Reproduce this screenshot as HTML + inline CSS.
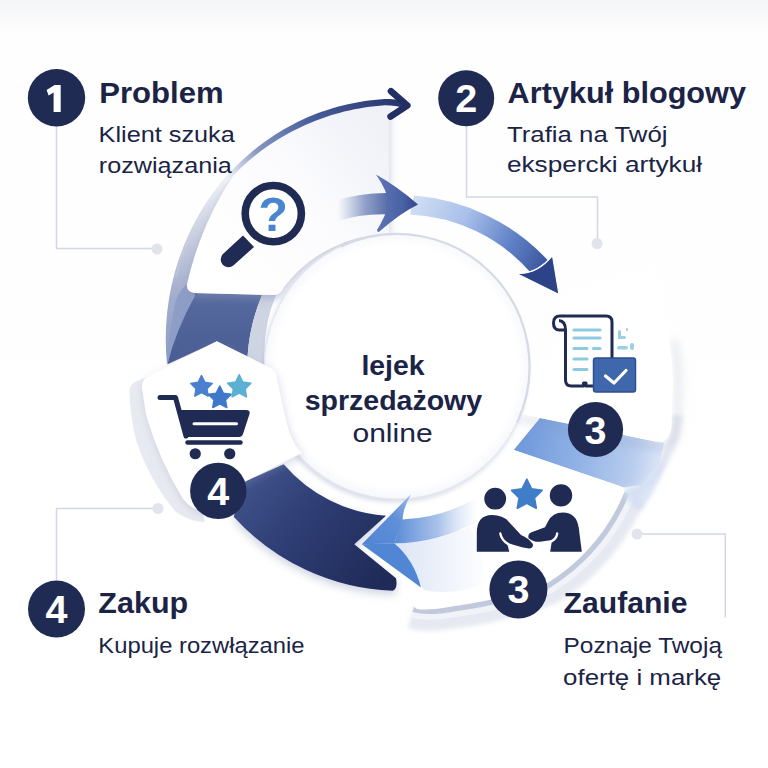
<!DOCTYPE html><html><head><meta charset="utf-8"><title>Lejek sprzedażowy online</title><style>html,body{margin:0;padding:0;background:#fff}body{width:768px;height:768px;overflow:hidden;font-family:"Liberation Sans",sans-serif}svg{display:block}</style></head><body><svg width="768" height="768" viewBox="0 0 768 768"><defs>
<linearGradient id="bg" x1="0" y1="0" x2="0" y2="1"><stop offset="0" stop-color="#f4f5f7"/><stop offset="0.045" stop-color="#fefefe"/><stop offset="1" stop-color="#ffffff"/></linearGradient>
<filter id="blur2" x="-30%" y="-30%" width="160%" height="160%"><feGaussianBlur stdDeviation="2"/></filter>
<filter id="blur4" x="-30%" y="-30%" width="160%" height="160%"><feGaussianBlur stdDeviation="4"/></filter>
<filter id="blur8" x="-30%" y="-30%" width="160%" height="160%"><feGaussianBlur stdDeviation="8"/></filter>
<linearGradient id="gRim" gradientUnits="userSpaceOnUse" x1="180" y1="285" x2="405" y2="100"><stop offset="0" stop-color="#b7bed4"/><stop offset="0.36" stop-color="#f0f1f7"/><stop offset="0.5" stop-color="#8796c2"/><stop offset="0.7" stop-color="#4a5f9e"/><stop offset="1" stop-color="#27346a"/></linearGradient>
<linearGradient id="gArr1" gradientUnits="userSpaceOnUse" x1="338" y1="0" x2="392" y2="0"><stop offset="0" stop-color="#7f90c0" stop-opacity="0"/><stop offset="0.5" stop-color="#6f83b8" stop-opacity="0.75"/><stop offset="1" stop-color="#4b62a2"/></linearGradient>
<linearGradient id="gHead1" gradientUnits="userSpaceOnUse" x1="378" y1="0" x2="418" y2="0"><stop offset="0" stop-color="#5d75b5"/><stop offset="0.6" stop-color="#4a62a6"/><stop offset="1" stop-color="#34478a"/></linearGradient>
<linearGradient id="gBand1" gradientUnits="userSpaceOnUse" x1="415" y1="205" x2="545" y2="268"><stop offset="0" stop-color="#cfdcf3"/><stop offset="0.35" stop-color="#a9c0ea"/><stop offset="0.7" stop-color="#6283c8"/><stop offset="1" stop-color="#3a559d"/></linearGradient>
<linearGradient id="gBand2" gradientUnits="userSpaceOnUse" x1="520" y1="440" x2="662" y2="468"><stop offset="0" stop-color="#7099db"/><stop offset="0.45" stop-color="#93b4e6"/><stop offset="0.8" stop-color="#b9cdee"/><stop offset="1" stop-color="#dfe8f8"/></linearGradient>
<linearGradient id="gArr3" gradientUnits="userSpaceOnUse" x1="396" y1="0" x2="478" y2="0"><stop offset="0" stop-color="#5c8cd7"/><stop offset="0.5" stop-color="#8fb0e4" stop-opacity="0.8"/><stop offset="1" stop-color="#c5d6f2" stop-opacity="0"/></linearGradient>
<linearGradient id="gHead3" gradientUnits="userSpaceOnUse" x1="360" y1="545" x2="412" y2="495"><stop offset="0" stop-color="#4f83d3"/><stop offset="0.6" stop-color="#5f8fd8"/><stop offset="1" stop-color="#9ab8e8"/></linearGradient>
<linearGradient id="gPale3" gradientUnits="userSpaceOnUse" x1="398" y1="560" x2="490" y2="560"><stop offset="0" stop-color="#d9e3f5"/><stop offset="1" stop-color="#ffffff"/></linearGradient>
<linearGradient id="gDark" gradientUnits="userSpaceOnUse" x1="250" y1="475" x2="380" y2="585"><stop offset="0" stop-color="#40528b"/><stop offset="0.45" stop-color="#2d3c72"/><stop offset="1" stop-color="#1f2a57"/></linearGradient>
<linearGradient id="gRib" gradientUnits="userSpaceOnUse" x1="0" y1="293" x2="0" y2="362"><stop offset="0" stop-color="#566a9e"/><stop offset="1" stop-color="#4a5d94"/></linearGradient>
<linearGradient id="gLeft" gradientUnits="userSpaceOnUse" x1="0" y1="180" x2="0" y2="365"><stop offset="0" stop-color="#eef0f6"/><stop offset="0.3" stop-color="#c9cfe0"/><stop offset="0.62" stop-color="#a3aecd"/><stop offset="1" stop-color="#8c9cc5"/></linearGradient>
<linearGradient id="gSeg1" gradientUnits="userSpaceOnUse" x1="215" y1="290" x2="389" y2="150"><stop offset="0" stop-color="#ffffff"/><stop offset="0.55" stop-color="#fcfcfe"/><stop offset="1" stop-color="#f0f2f8"/></linearGradient>
<radialGradient id="gDisk" gradientUnits="userSpaceOnUse" cx="397" cy="366" r="134"><stop offset="0.9" stop-color="#ffffff"/><stop offset="1" stop-color="#f6f7fb"/></radialGradient>
</defs>
<rect width="768" height="768" fill="url(#bg)"/>
<path d="M167 364 A248.4 248.4 0 0 1 233 169 L250 200 L196 294 Z" fill="url(#gLeft)"/>
<path d="M195 295 Q178 326 167.5 364 Q168 335 176 300 Q180 290 187 284 Z" fill="#8d9dc6"/>
<path d="M194 293 L262 295 A190 190 0 0 0 247.5 357 L216.7 341.3 L167.5 364 Q176 330 195 295.5 Z" fill="url(#gRib)"/>
<path d="M167.5 364 L216.7 341.3" stroke="#35467d" stroke-width="1" opacity="0.5"/>
<path d="M262 295 L276 295 A150 150 0 0 0 265 366 L247.5 357 A190 190 0 0 1 262 295Z" fill="#cfd4e3"/>
<path d="M129.5 391 Q130 384 137 381 L150 376 L160 400 L200 505 L205 522 Q190 522 176 512 Q150 482 136 440 Q130 415 129.5 391Z" fill="#e8eaf1"/>
<path d="M397 372 m-160 100 l160 60z" fill="none"/>
<path d="M244.0 482.0L283.7 464.2A149.0 149.0 0 0 0 386.0 515.8L354.3 544.2L396.0 578.3 Q398 589 392.7 590.8A226.5 226.5 0 0 1 233.7 516.7Z" fill="#aab2cc" opacity="0.55" transform="translate(0,4)" filter="url(#blur4)"/>
<path d="M244.0 482.0L283.7 464.2A149.0 149.0 0 0 0 386.0 515.8L354.3 544.2L396.0 578.3 Q398 589 392.7 590.8A226.5 226.5 0 0 1 233.7 516.7Z" fill="url(#gDark)"/>
<path d="M414.0 195.5A205.0 205.0 0 0 1 548.0 260.5L531.0 273.0A171.0 171.0 0 0 0 410.0 214.5Z" fill="url(#gBand1)"/>
<path d="M552.5 255.5 L559 294.5 L515.5 273 Q536 275.5 552.5 255.5Z" fill="#2c4387" stroke="#ffffff" stroke-width="1.2" stroke-linejoin="round"/>
<path d="M678.0 415.0 Q672 468 630.0 497.0" fill="none" stroke="#e9ecf3" stroke-width="10" filter="url(#blur2)"/>
<path d="M624.5 492.0A196.0 196.0 0 0 1 547.5 583.0A420.0 420.0 0 0 1 455.0 606.0 Q428 611 414 607" fill="none" stroke="#e6e9f1" stroke-width="44" filter="url(#blur2)"/>
<path d="M624.5 492.0A196.0 196.0 0 0 1 547.5 583.0A420.0 420.0 0 0 1 455.0 606.0 Q428 611 414 607" fill="none" stroke="#f1f3f8" stroke-width="22"/>
<path d="M624.5 492.0A196.0 196.0 0 0 1 547.5 583.0A420.0 420.0 0 0 1 455.0 606.0 Q428 611 414 607" fill="none" stroke="#c1c9dd" stroke-width="10.5"/>
<g fill="none" stroke="#d4d8e4" stroke-width="1.5"><path d="M56.5 126V248.5H157"/><path d="M466.5 126V197H597.5V243"/><path d="M157 508.5H56.5V580"/><path d="M637 534H725.3V617.5"/></g>
<g fill="#e1e4ed"><circle cx="157" cy="249" r="5.5"/><circle cx="597" cy="243.5" r="5.5"/><circle cx="158" cy="508.5" r="5.5"/><circle cx="637" cy="534" r="5.5"/></g>
<path d="M540 418 L664 443 L660 462 L642 485 L623.75 487.5 L513.75 450 Z" fill="url(#gBand2)"/>
<path d="M640 484 L660 462 L668 450 Q664 480 640 512 L626 500 L624 488Z" fill="#d3dff4" opacity="0.8" filter="url(#blur2)"/>
<path d="M513.8 450.0L619.0 485.8 Q624.5 488 624.5 492 A196.0 196.0 0 0 1 547.5 583.0A420.0 420.0 0 0 1 455.0 606.0 Q428 611 417 609 L404 600 L398 548 L412 500 A150.0 150.0 0 0 0 513.8 450.0Z" fill="#ffffff"/>
<path d="M396 544 Q430 540 470 527 Q486 560 486 584 Q450 596 424 590 Z" fill="url(#gPale3)" opacity="0.9"/>
<path d="M517 418 L655 446.5 Q675 450 677 428 L678.5 381 Q678 360 674 340" fill="none" stroke="#8a93b3" stroke-width="6" opacity="0.24" filter="url(#blur4)"/>
<path d="M521.0 414.0L655.0 441.5 Q669 444 671.4 428 L673 381 Q672 355 668.5 337 L655 268 L560 296 A134.0 134.0 0 0 1 521.0 414.0Z" fill="#ffffff"/>
<path d="M195 293 Q186 292.5 187 284 A330.0 330.0 0 0 1 238.0 168.5A230.3 230.3 0 0 1 389.0 103.5L389.0 234.0A134.5 134.5 0 0 0 284.0 287.0 Q281 295 274 295 Z" fill="#8c97ba" opacity="0.5" transform="translate(0,4)" filter="url(#blur4)"/>
<path d="M195 293 Q186 292.5 187 284 A330.0 330.0 0 0 1 238.0 168.5A230.3 230.3 0 0 1 389.0 103.5L389.0 234.0A134.5 134.5 0 0 0 284.0 287.0 Q281 295 274 295 Z" fill="url(#gSeg1)"/>
<path d="M173.9 277.5 L175.2 272.4 L176.6 267.3 L178.1 262.3 L179.8 257.3 L181.5 252.3 L183.4 247.4 L185.4 242.5 L187.4 237.7 L189.6 232.9 L191.9 228.2 L194.3 223.5 L196.7 218.8 L199.3 214.3 L202.0 209.7 L204.8 205.2 L207.6 200.8 L210.6 196.5 L213.7 192.2 L216.9 188.0 L220.2 183.9 L223.5 179.8 L227.0 175.9 L230.6 172.0 L234.2 168.1 L237.9 164.4 L241.7 160.7 L245.6 157.2 L249.6 153.7 L253.6 150.3 L257.8 147.0 L262.0 143.8 L266.3 140.7 L270.6 137.7 L275.0 134.8 L279.5 132.0 L284.0 129.3 L288.6 126.7 L293.3 124.2 L298.0 121.8 L302.8 119.5 L307.6 117.3 L312.5 115.2 L317.4 113.3 L322.4 111.5 L327.4 109.9 L332.5 108.3 L337.6 106.8 L342.7 105.5 L347.9 104.3 L353.1 103.2 L358.3 102.2 L363.5 101.3 L368.7 100.5 L374.0 99.9 L379.3 99.4 L384.5 99.0 L389.8 99.1 L395.1 99.6 L400.4 100.7 L405.6 102.2 L405.4 108.5 L400.4 107.0 L395.3 105.9 L390.1 105.4 L384.9 105.3 L379.8 105.7 L374.7 106.2 L369.6 106.8 L364.4 107.5 L359.4 108.4 L354.3 109.3 L349.3 110.4 L344.2 111.6 L339.3 112.9 L334.3 114.3 L329.4 115.8 L324.5 117.5 L319.7 119.2 L314.8 121.1 L310.1 123.0 L305.3 125.0 L300.6 127.2 L296.0 129.4 L291.4 131.8 L286.9 134.2 L282.4 136.8 L277.9 139.4 L273.6 142.2 L269.3 145.1 L265.0 148.0 L260.9 151.1 L256.8 154.2 L252.7 157.5 L248.8 160.8 L244.9 164.2 L241.1 167.7 L237.4 171.3 L233.7 175.0 L230.2 178.7 L226.7 182.6 L223.3 186.5 L220.0 190.5 L216.8 194.6 L213.7 198.7 L210.7 202.9 L207.8 207.2 L205.0 211.6 L202.2 216.0 L199.6 220.5 L197.1 225.0 L194.7 229.6 L192.3 234.2 L190.2 238.9 L188.1 243.7 L186.2 248.5 L184.3 253.4 L182.6 258.3 L181.0 263.2 L179.5 268.2 L178.1 273.2 L176.8 278.2Z" fill="url(#gRim)"/>
<path d="M391 91.3 L407.3 105.6 L390.6 116.6" fill="none" stroke="#222f63" stroke-width="6.6" stroke-linecap="round" stroke-linejoin="round"/>
<circle cx="395.5" cy="369.5" r="133" fill="#aab3cf" opacity="0.42" filter="url(#blur2)"/>
<circle cx="397" cy="366.5" r="132.5" fill="url(#gDisk)" stroke="#e6e8f0" stroke-width="1.2"/>
<path d="M341.0 246.4A132.5 132.5 0 0 1 517.1 422.5" fill="none" stroke="#d6dae6" stroke-width="2.2"/>
<path d="M216.7 341.3 L270 367.5 Q276 371 277 378 L281 398 L287 424 Q292 444 302 453 L246 481 L205 512 Q192 510 183 499 Q160 462 146 415 L142 388 Q141 381 147 377 Z" fill="#8c97ba" opacity="0.32" transform="translate(1,3)" filter="url(#blur4)"/>
<path d="M216.7 341.3 L270 367.5 Q276 371 277 378 L281 398 L287 424 Q292 444 302 453 L246 481 L205 512 Q192 510 183 499 Q160 462 146 415 L142 388 Q141 381 147 377 Z" fill="#ffffff"/>
<path d="M334 201 A176 176 0 0 1 390 193 L390 214.5 A156 156 0 0 0 336 221.5Z" fill="url(#gArr1)"/>
<path d="M376 174.5 Q398 187 418 204.4 Q399 214 380 231 Q377.5 233.5 377 230 Q385 217 389 204 Q387 190 376 174.5Z" fill="url(#gHead1)"/>
<path d="M394.3 543.3 Q414 560 421 587.5 L361.8 544.2Z" fill="#5186d4"/>
<path d="M402 519.5 A160 160 0 0 0 478 497 L478 521 A180 180 0 0 1 394.3 543.5Z" fill="url(#gArr3)"/>
<path d="M361.8 544.2 L411 494.2 Q403 508 402.5 520 L394.3 543.5 Z" fill="url(#gHead3)" stroke="#fff" stroke-width="0"/>
<path d="M243 235.5 L254 247 L233.6 265.2 A7.7 7.7 0 0 1 223.2 253.8 Z" fill="#1f2b53"/>
<circle cx="273.3" cy="213.6" r="28.1" fill="#fff" stroke="#1f2b53" stroke-width="7.6"/>
<text x="273" y="231.3" font-family="Liberation Sans, sans-serif" font-weight="bold" font-size="48.5" text-anchor="middle" fill="#4a86cf">?</text>
<path d="M201.5 375.7 L204.8 382.4 L212.2 383.5 L206.9 388.7 L208.1 396.1 L201.5 392.6 L194.9 396.1 L196.1 388.7 L190.8 383.5 L198.2 382.4Z" fill="#4a80cf" stroke="#4a80cf" stroke-width="1.6" stroke-linejoin="round"/>
<path d="M239.2 374.8 L242.8 382.1 L250.9 383.2 L245.1 388.9 L246.4 396.9 L239.2 393.1 L232.1 396.9 L233.4 388.9 L227.6 383.2 L235.7 382.1Z" fill="#5bb0d3" stroke="#5bb0d3" stroke-width="1.6" stroke-linejoin="round"/>
<path d="M219.8 386.2 L223.2 393.2 L231.0 394.4 L225.4 399.8 L226.7 407.5 L219.8 403.9 L212.8 407.5 L214.1 399.8 L208.5 394.4 L216.3 393.2Z" fill="#3f78cb" stroke="#3f78cb" stroke-width="1.6" stroke-linejoin="round"/>
<path d="M160 397.5 H175.5 L186 436" fill="none" stroke="#1f2b53" stroke-width="5" stroke-linecap="round" stroke-linejoin="round"/>
<path d="M179 410 H246 Q250.5 410 249.5 414 L243 434 Q242 437 239 437 H188 Z" fill="#1f2b53"/>
<path d="M187.5 442.5 H240.5" stroke="#1f2b53" stroke-width="4.5" stroke-linecap="round"/>
<path d="M194 423.75 H236.5" stroke="#fff" stroke-width="3" stroke-linecap="round"/>
<circle cx="195.25" cy="453.75" r="5.6" fill="#1f2b53"/><circle cx="229.75" cy="453.75" r="5.6" fill="#1f2b53"/>
<path d="M565.5 330 V380 Q565.5 386 571.5 386 H583.5 V383 H586 V386 H606 Q612 386 612 380 V322 Q612 316 606 316 H560 Q553.5 316 553.5 323 Q553.5 330 559.5 330 H565.5 Q565.5 321 559 320.5" fill="#fff" stroke="#1f2b53" stroke-width="3" stroke-linejoin="round"/>
<g stroke="#8ecbe2" stroke-width="3.2" stroke-linecap="round"><path d="M574 330H600M574 338H600M574 348.5H587M593.5 348.5H600M574 359H587M574 369.5H587"/></g>
<g fill="#9bd0e4"><rect x="618" y="330" width="3" height="9" rx="1.5"/><rect x="618" y="336" width="8" height="3" rx="1.5"/><rect x="617" y="346" width="11" height="3.4" rx="1.7"/><rect x="630" y="343" width="4" height="7" rx="2"/><rect x="626" y="328" width="2" height="3" rx="1"/></g>
<rect x="593.5" y="358" width="42" height="34" rx="2.5" fill="#3e67ac" stroke="#2e4f90" stroke-width="1.5"/>
<path d="M605.5 376 L614 383 L626 370.5" fill="none" stroke="#fff" stroke-width="3.2" stroke-linecap="round" stroke-linejoin="round"/>
<path d="M526.8 479.3 L531.5 488.8 L542.0 490.4 L534.4 497.8 L536.2 508.2 L526.8 503.3 L517.4 508.2 L519.2 497.8 L511.6 490.4 L522.1 488.8Z" fill="#3f7dc8" stroke="#3f7dc8" stroke-width="1.8" stroke-linejoin="round"/>
<circle cx="495.2" cy="498.7" r="10.9" fill="#1f2b53"/><circle cx="561" cy="495.4" r="11.2" fill="#1f2b53"/>
<path d="M476.8 551.7 V533 Q476.8 515 492 515 Q503 515 508.5 521.5 L521 535 Q528.5 538 532.8 544 Q533.8 548.3 529 548.6 Q516 546 507 542.5 L509.3 551.7 Z" fill="#1f2b53"/>
<path d="M500.3 533.5 Q501.5 540 508 544" fill="none" stroke="#fff" stroke-width="2.3" stroke-linecap="round"/>
<path d="M581.8 551.7 L578.8 528 Q576.5 512.5 563 512.5 Q552.5 512.5 548 521.5 L545 527.3 L531.5 532.3 Q527.3 534.3 528.6 538.2 Q533 542 540 541.8 L552 540 L550.2 551.7 Z" fill="#1f2b53"/>
<path d="M557.2 533.5 Q556.5 539 550.5 542" fill="none" stroke="#fff" stroke-width="2.3" stroke-linecap="round"/>
<circle cx="56.5" cy="97.7" r="28.7" fill="#1f2b53"/>
<path d="M46.6 90 L54.6 85.1 H60.7 V112 H53.6 V92.6 L48.6 95.5 Z" fill="#fff"/>
<circle cx="466.2" cy="98.3" r="28" fill="#1f2b53"/>
<text x="466.2" y="112.3" font-family="Liberation Sans, sans-serif" font-weight="bold" font-size="39.5" text-anchor="middle" fill="#fff">2</text>
<circle cx="56.5" cy="609" r="28.5" fill="#1f2b53"/>
<text x="56.5" y="623.0" font-family="Liberation Sans, sans-serif" font-weight="bold" font-size="39.5" text-anchor="middle" fill="#fff">4</text>
<circle cx="595.5" cy="429.5" r="27.6" fill="#1f2b53"/>
<text x="595.5" y="443.5" font-family="Liberation Sans, sans-serif" font-weight="bold" font-size="39.5" text-anchor="middle" fill="#fff">3</text>
<circle cx="518.4" cy="589.4" r="29" fill="#1f2b53"/>
<text x="518.4" y="603.4" font-family="Liberation Sans, sans-serif" font-weight="bold" font-size="39.5" text-anchor="middle" fill="#fff">3</text>
<circle cx="218.3" cy="490.9" r="28.2" fill="#1f2b53"/>
<text x="218.3" y="504.9" font-family="Liberation Sans, sans-serif" font-weight="bold" font-size="39.5" text-anchor="middle" fill="#fff">4</text>
<text x="99.32" y="102.7" font-family="Liberation Sans, sans-serif" font-weight="bold" font-size="28.7" textLength="124.26" lengthAdjust="spacingAndGlyphs" fill="#1b2446">Problem</text>
<text x="98.62" y="141.9" font-family="Liberation Sans, sans-serif" font-size="22" textLength="136.20" lengthAdjust="spacingAndGlyphs" fill="#1b2446">Klient szuka</text>
<text x="98.77" y="173.4" font-family="Liberation Sans, sans-serif" font-size="22" textLength="133.11" lengthAdjust="spacingAndGlyphs" fill="#1b2446">rozwiązania</text>
<text x="507.64" y="103.3" font-family="Liberation Sans, sans-serif" font-weight="bold" font-size="28.7" textLength="238.33" lengthAdjust="spacingAndGlyphs" fill="#1b2446">Artykuł blogowy</text>
<text x="506.98" y="141.8" font-family="Liberation Sans, sans-serif" font-size="22" textLength="160.50" lengthAdjust="spacingAndGlyphs" fill="#1b2446">Trafia na Twój</text>
<text x="506.95" y="172.3" font-family="Liberation Sans, sans-serif" font-size="22" textLength="195.13" lengthAdjust="spacingAndGlyphs" fill="#1b2446">ekspercki artykuł</text>
<text x="98.36" y="612.7" font-family="Liberation Sans, sans-serif" font-weight="bold" font-size="28.7" textLength="89.79" lengthAdjust="spacingAndGlyphs" fill="#1b2446">Zakup</text>
<text x="98.34" y="652.7" font-family="Liberation Sans, sans-serif" font-size="22" textLength="206.21" lengthAdjust="spacingAndGlyphs" fill="#1b2446">Kupuje rozwłązanie</text>
<text x="563.61" y="612.5" font-family="Liberation Sans, sans-serif" font-weight="bold" font-size="28.7" textLength="123.88" lengthAdjust="spacingAndGlyphs" fill="#1b2446">Zaufanie</text>
<text x="563.52" y="653" font-family="Liberation Sans, sans-serif" font-size="22" textLength="158.47" lengthAdjust="spacingAndGlyphs" fill="#1b2446">Poznaje Twoją</text>
<text x="563.07" y="684.5" font-family="Liberation Sans, sans-serif" font-size="22" textLength="158.17" lengthAdjust="spacingAndGlyphs" fill="#1b2446">ofertę i markę</text>
<text x="361.44" y="375.2" font-family="Liberation Sans, sans-serif" font-weight="bold" font-size="28.5" textLength="63.15" lengthAdjust="spacingAndGlyphs" fill="#1b2446">lejek</text>
<text x="304.65" y="409.8" font-family="Liberation Sans, sans-serif" font-weight="bold" font-size="28.5" textLength="177.49" lengthAdjust="spacingAndGlyphs" fill="#1b2446">sprzedażowy</text>
<text x="352.43" y="442" font-family="Liberation Sans, sans-serif" font-size="25.5" textLength="80.22" lengthAdjust="spacingAndGlyphs" fill="#1b2446">online</text></svg></body></html>
